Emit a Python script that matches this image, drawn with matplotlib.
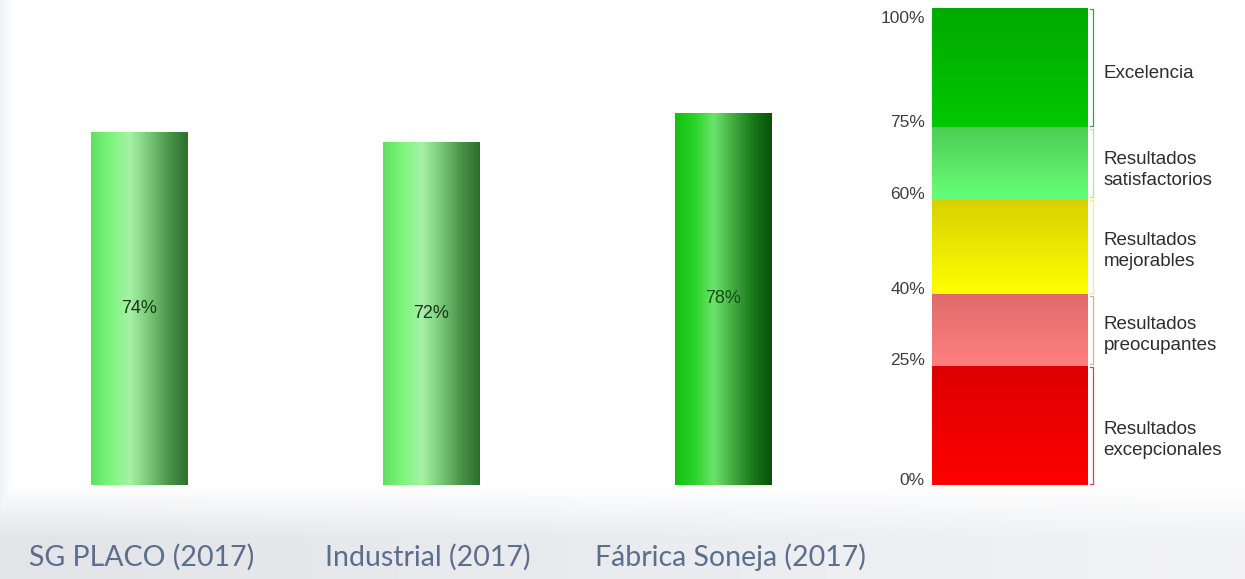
import numpy as np
import matplotlib
matplotlib.use("Agg")
from matplotlib import pyplot as plt
from matplotlib.colors import LinearSegmentedColormap

# Data
categories = ["SG PLACO (2017)", "Industrial (2017)", "Fábrica Soneja (2017)"]
values = [74, 72, 78]
value_labels = ["74%", "72%", "78%"]

# Reference scale (bands)
band_bottoms = [0, 25, 40, 60, 75]
band_tops = [25, 40, 60, 75, 100]
band_names = ["Resultados\nexcepcionales", "Resultados\npreocupantes",
              "Resultados\nmejorables", "Resultados\nsatisfactorios", "Excelencia"]
scale_ticks = [0, 25, 40, 60, 75, 100]
scale_tick_labels = ["0%", "25%", "40%", "60%", "75%", "100%"]

W, H = 1245, 579
fig = plt.figure(figsize=(W / 100, H / 100), dpi=100)

# Slide-like background: white panel on top, light grey fade at the bottom
bg = fig.add_axes([0, 0, 1, 1])
yy = np.linspace(0, 1, 300)[:, None]
xx = np.linspace(0, 1, 600)[None, :]
fade = np.clip((yy - 0.84) / 0.09, 0, 1) * (0.11 - 0.06 * xx)
left = np.clip((0.01 - xx) / 0.01, 0, 1) * 0.05
f = np.maximum(fade, left)
img = np.dstack([1 - f, 1 - f * 0.95, 1 - f * 0.8])
bg.imshow(np.clip(img, 0, 1), aspect="auto", extent=[0, 1, 0, 1], origin="upper")
bg.set_xlim(0, 1)
bg.set_ylim(0, 1)
bg.axis("off")

y0 = (H - 485) / H
yh = 477 / H

# Bars
ax = fig.add_axes([0, y0, 850 / W, yh])
ax.set_xlim(-0.476, 2.435)
ax.set_ylim(0, 100)
ax.axis("off")

bar_cmaps = [
    LinearSegmentedColormap.from_list("b1", ["#5fe05f", "#7cf57c", "#a6f2a6", "#78c878", "#4a954a", "#2e6e2e"]),
    LinearSegmentedColormap.from_list("b2", ["#5fe05f", "#7cf57c", "#a6f2a6", "#78c878", "#4a954a", "#2e6e2e"]),
    LinearSegmentedColormap.from_list("b3", ["#12c012", "#2ad42a", "#6ce46c", "#42ab42", "#1a7a1a", "#0a500a"]),
]
grad = np.linspace(0, 1, 256)[None, :]
bars = ax.bar(range(len(categories)), values, width=0.329, color="none", edgecolor="none")
for i, b in enumerate(bars):
    x, w, h = b.get_x(), b.get_width(), b.get_height()
    im = ax.imshow(grad, cmap=bar_cmaps[i], aspect="auto", extent=[x, x + w, 0, h], zorder=2)
    im.set_clip_path(b)
    ax.text(x + w / 2, h / 2, value_labels[i], ha="center", va="center",
            fontsize=13, color="#1a361a" if i < 2 else "#124e12",
            family="Liberation Sans", zorder=3)

label_dx = [0.01, -0.01, 0.025]
for i, c in enumerate(categories):
    ax.text(i + label_dx[i], -15.2, c, ha="center", va="center", fontsize=20.5,
            color="#5a6f8e", family="Lato", clip_on=False)

# Reference scale
sx = fig.add_axes([932 / W, y0, 156 / W, yh])
sx.set_xlim(0, 1)
sx.set_ylim(0, 100)
sx.axis("off")

band_cmaps = [
    ["#ff0000", "#dc0000"],
    ["#ff8080", "#e06a6a"],
    ["#ffff00", "#d8d000"],
    ["#66ff77", "#4fcc55"],
    ["#00c800", "#00aa00"],
]
bracket_colors = ["#e04040", "#f3a0a0", "#fff060", "#a0f0a0", "#40a040"]
label_shift = [-3.0, -1.0, -1.0, -1.4, -1.3]
vgrad = np.linspace(0, 1, 256)[:, None]
bands = sx.bar(0.5, np.array(band_tops) - np.array(band_bottoms), bottom=band_bottoms,
               width=1.0, color="none", edgecolor="none")
for i, b in enumerate(bands):
    cm = LinearSegmentedColormap.from_list("s%d" % i, band_cmaps[i])
    bot, top = band_bottoms[i], band_tops[i]
    im = sx.imshow(vgrad, cmap=cm, aspect="auto", extent=[0, 1, bot, top], origin="lower", zorder=2)
    im.set_clip_path(b)
    # thin bracket to the right
    sx.plot([1.01, 1.035, 1.035, 1.01], [top - 0.3, top - 0.3, bot + 0.3, bot + 0.3],
            color=bracket_colors[i], lw=0.9, clip_on=False)
    sx.text(1.10, (bot + top) / 2 + label_shift[i], band_names[i], ha="left", va="center",
            fontsize=13.5, color="#2e2e2e", family="Liberation Sans", linespacing=1.3)

for t, lab in zip(scale_ticks, scale_tick_labels):
    sx.text(-0.045, t + (-2.1 if t == 100 else 1.0), lab, ha="right", va="center",
            fontsize=12.5, color="#3e3e3e", family="Liberation Sans")

fig.savefig("out.png", dpi=100)
